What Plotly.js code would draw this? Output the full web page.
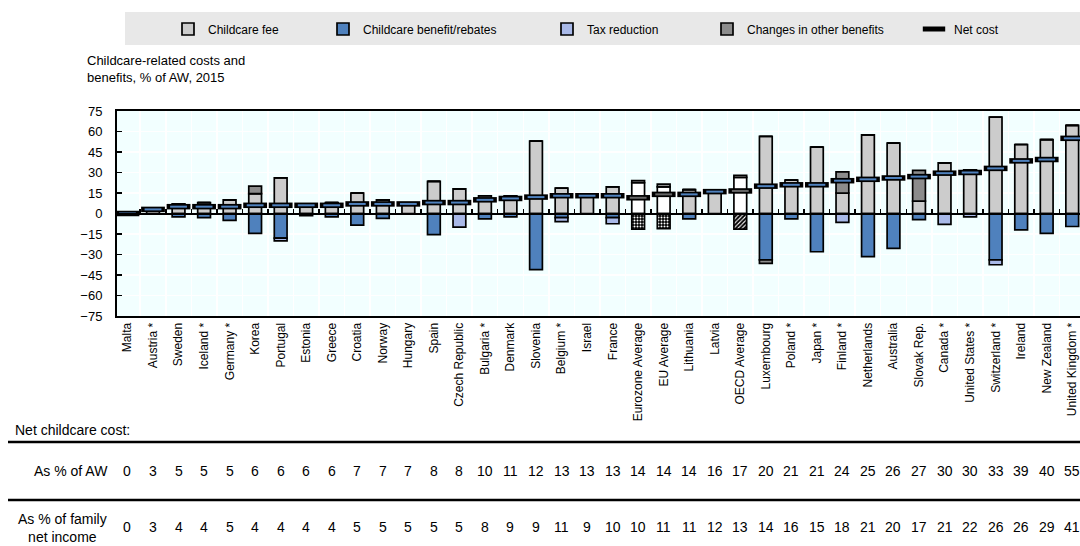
<!DOCTYPE html>
<html><head><meta charset="utf-8">
<script src="https://cdn.plot.ly/plotly-3.0.1.min.js"></script>
<style>html,body{margin:0;padding:0;overflow:hidden;background:#fff}#chart{width:1090px;height:546px}</style>
</head><body><div id="chart"></div>
<script>
const categories = ["Malta","Austria *","Sweden","Iceland *","Germany *","Korea","Portugal","Estonia","Greece","Croatia","Norway","Hungary","Spain","Czech Republic","Bulgaria *","Denmark","Slovenia","Belgium *","Israel","France","Eurozone Average","EU Average","Lithuania","Latvia","OECD Average","Luxembourg","Poland *","Japan *","Finland *","Netherlands","Australia","Slovak Rep.","Canada *","United States *","Switzerland *","Ireland","New Zealand","United Kingdom *"];
const childcareFee    = [0,4,7,8,10,14.5,26,7,8,15,10,7.5,23.5,18,13,13,53,18.5,13.5,19.5,22.5,19.5,17.5,17,26.5,56.5,24.5,48.5,15,57.5,51.5,9,37,32,70.5,50.5,54,64.5];
const benefitRebates  = [0,0,-2.5,-3,-5,-14.5,-18,-1.5,-2.5,-8.5,-3.5,0,-15.5,0,-4,-2.5,-41,-3,0,-3,null,null,-4,0,null,-34,-4,-28,0,-31.5,-25.5,-4.5,0,0,-34,-12,-14.5,-9.5];
const taxReduction    = [0,0,0,0,0,0,-2,0,0,0,0,0,0,-10,0,0,0,-3,0,-4.5,null,null,0,0,null,0,0,0,-6.5,0,0,0,-8,-2.5,-3.5,0,0,0];
const otherBenefits   = [0,0,0,0,0,5.5,0,0,0,0,0,0,0,0,0,0,0,0,0,0,1.5,2,0,0,1.5,-2.5,0,0,15.5,0,0,22.5,0,0,0,0,0,0];
const averageSupport  = [null,null,null,null,null,null,null,null,null,null,null,null,null,null,null,null,null,null,null,null,-11.5,-11,null,null,-11.5,null,null,null,null,null,null,null,null,null,null,null,null,null];
const netCost         = [0,3,5,5,5,6,6,6,6,7,7,7,8,8,10,11,12,13,13,13,11.5,14,14,16,16.5,20,21,21,24,25,26,27,29.5,30,33,38.5,39.5,55];
const tableAW         = [0,3,5,5,5,6,6,6,6,7,7,7,8,8,10,11,12,13,13,13,14,14,14,16,17,20,21,21,24,25,26,27,30,30,33,39,40,55];
const tableFamily     = [0,3,4,4,5,4,4,4,4,5,5,5,5,5,8,9,9,11,9,10,10,11,11,12,13,14,16,15,18,21,20,17,21,22,26,26,29,41];
const legendLabels = ["Childcare fee","Childcare benefit/rebates","Tax reduction","Changes in other benefits","Net cost"];

const isAvg = categories.map(c => c.indexOf("Average") >= 0);
const FONT = "Liberation Sans, Arial, sans-serif";
const L = 117, PW = 968, T = 111, PH = 205;
const px2x = p => (p - L) / PW;
const py2y = p => (T + PH - p) / PH;
const outline = {color: "#000", width: 1.7};
const BW = 0.5;

const traces = [
  {type:"bar", name:legendLabels[0], x:categories, y:childcareFee, width:BW, legend:"legend",
   marker:{color:isAvg.map(a => a ? "#ffffff" : "#cccccc"), line:outline}},
  {type:"bar", name:legendLabels[1], x:categories, y:benefitRebates, width:BW, legend:"legend2",
   marker:{color:"#4f81bd", line:outline}},
  {type:"bar", name:legendLabels[2], x:categories, y:taxReduction, width:BW, legend:"legend3",
   marker:{color:"#a9b9e8", line:outline}},
  {type:"bar", name:"avg", x:categories, y:averageSupport, width:BW, showlegend:false,
   marker:{color:"#000", line:outline,
     pattern:{shape:categories.map(c => c.indexOf("OECD") >= 0 ? "/" : "."), bgcolor:"#000", fgcolor:"#fff", size:3, solidity:0.35, fillmode:"replace"}}},
  {type:"bar", name:legendLabels[3], x:categories, y:otherBenefits, width:BW, legend:"legend4",
   marker:{color:"#8c8c8c", line:outline}},
  {type:"scatter", mode:"markers", name:legendLabels[4], x:categories, y:netCost, legend:"legend5",
   marker:{symbol:"line-ew", size:17, color:"#000", line:{color:"#000", width:5.5}}},
  {type:"scatter", mode:"markers", name:"net-inner", x:categories, y:netCost, showlegend:false, hoverinfo:"skip",
   marker:{symbol:"line-ew", size:12, color:isAvg.map(a => a ? "#666666" : "#4f81bd"), line:{color:isAvg.map(a => a ? "#666666" : "#4f81bd"), width:2}}},
  {type:"scatter", mode:"markers", x:[0], y:[0], xaxis:"x2", yaxis:"y", showlegend:false, hoverinfo:"skip", marker:{opacity:0}}
];

const boundaries = categories.slice(1).map((c, i) => i + 0.5);

const annotations = [
  {text:"Childcare-related costs and<br>benefits, % of AW, 2015", xref:"paper", yref:"paper", x:px2x(85), y:py2y(51), xanchor:"left", yanchor:"top", align:"left", showarrow:false, font:{size:13, color:"#000", family:FONT}},
  {text:"Net childcare cost:", xref:"paper", yref:"paper", x:px2x(13), y:py2y(430), xanchor:"left", yanchor:"middle", showarrow:false, font:{size:14, color:"#000", family:FONT}},
  {text:"As % of AW", xref:"paper", yref:"paper", x:px2x(110), y:py2y(471), xanchor:"right", yanchor:"middle", showarrow:false, font:{size:14, color:"#000", family:FONT}},
  {text:"As % of family<br>net income", xref:"paper", yref:"paper", x:px2x(62), y:py2y(528), xanchor:"center", yanchor:"middle", align:"center", showarrow:false, font:{size:14, color:"#000", family:FONT}}
];
categories.forEach((c, i) => {
  annotations.push({text:String(tableAW[i]), x:c, xref:"x", y:py2y(471), yref:"paper", showarrow:false, yanchor:"middle", font:{size:14, color:"#000", family:FONT}});
  annotations.push({text:String(tableFamily[i]), x:c, xref:"x", y:py2y(527), yref:"paper", showarrow:false, yanchor:"middle", font:{size:14, color:"#000", family:FONT}});
});

const shapes = [
  {type:"rect", xref:"paper", yref:"paper", x0:px2x(125), x1:px2x(1090), y0:py2y(45), y1:py2y(12), fillcolor:"#e8e8e8", line:{width:0}, layer:"below"},
  {type:"line", xref:"paper", yref:"paper", x0:px2x(8), x1:px2x(1090), y0:py2y(442), y1:py2y(442), line:{color:"#000", width:2.5}},
  {type:"line", xref:"paper", yref:"paper", x0:px2x(8), x1:px2x(1090), y0:py2y(500), y1:py2y(500), line:{color:"#000", width:2.5}}
];

const legBase = {orientation:"h", bgcolor:"rgba(0,0,0,0)", borderwidth:0, xref:"paper", yref:"paper", yanchor:"middle", y:py2y(29), xanchor:"left", itemwidth:30, font:{size:12, color:"#000", family:FONT}};
const textStarts = [204, 359, 583, 743, 950];
const legends = {};
["legend","legend2","legend3","legend4","legend5"].forEach((k, i) => {
  legends[k] = Object.assign({}, legBase, {x:px2x(textStarts[i] - 36)});
});

const layout = Object.assign({
  width:1090, height:546,
  margin:{l:L, r:1090 - L - PW, t:T, b:546 - T - PH},
  paper_bgcolor:"#ffffff", plot_bgcolor:"#f2ffff",
  barmode:"relative", bargap:0.5,
  font:{family:FONT, size:12, color:"#000"},
  xaxis:{type:"category", range:[-0.41, 37.5], tickangle:-90, showline:true, mirror:true, linecolor:"#000", linewidth:2,
         ticks:"", showgrid:true, gridcolor:"#ffffff", gridwidth:1.5, tickson:"boundaries", tickfont:{size:12, family:FONT, color:"#000"}},
  xaxis2:{overlaying:"x", type:"linear", range:[-0.41, 37.5], anchor:"free", position:0.5, side:"bottom",
          showline:true, linecolor:"#000", linewidth:2, ticks:"inside", ticklen:4, tickwidth:1.5, tickcolor:"#000",
          tickmode:"array", tickvals:boundaries, showticklabels:false, showgrid:false, zeroline:false},
  yaxis:{range:[-75, 75], tickmode:"array", tickvals:[-75,-60,-45,-30,-15,0,15,30,45,60,75], ticks:"inside", ticklen:5, tickwidth:1.5, tickcolor:"#000",
         showline:true, mirror:true, linecolor:"#000", linewidth:2, showgrid:true, gridcolor:"#ffffff", gridwidth:1.5, zeroline:false,
         ticklabelstandoff:10, tickfont:{size:13, family:FONT, color:"#000"}},
  annotations:annotations, shapes:shapes, showlegend:true, hovermode:false
}, legends);

Plotly.newPlot("chart", traces, layout, {displayModeBar:false, staticPlot:true});
</script>
</body></html>
